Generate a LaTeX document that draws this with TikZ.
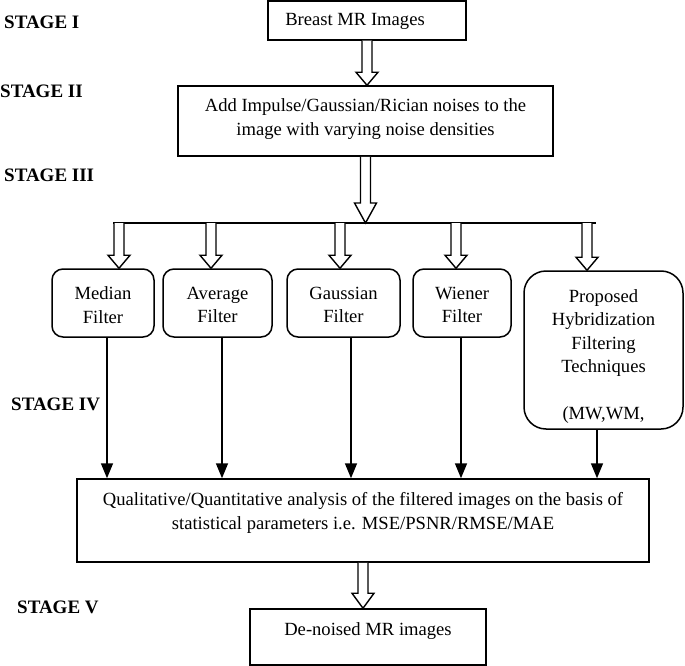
\documentclass[tikz,border=0pt]{standalone}
\usepackage{fontspec}
\setmainfont{Liberation Serif}
\usetikzlibrary{arrows.meta,calc}
\begin{document}
\begin{tikzpicture}[x=1pt,y=-1pt,
  every node/.style={font=\fontsize{18.6}{23.5}\selectfont},
  sqbox/.style={draw,line width=1.5pt,inner sep=0pt},
  rbox/.style={draw,line width=1.5pt,inner sep=0pt,rounded corners=11pt},
  txt/.style={align=center,inner sep=0pt},
  stagelbl/.style={anchor=west,inner sep=0pt,font=\fontsize{19}{22}\selectfont\bfseries},
  hollow/.style={draw,line width=1.4pt,fill=white},
  blk/.style={line width=1.6pt,-{Triangle[width=12pt,length=15pt]}}]
\useasboundingbox (0,0) rectangle (685,666);
\newcommand\hollowarr[3]{%
  \path[hollow] let \p1=#1, \p2=#2 in
    ({\x1-5pt},{\y1}) -- ({\x1-5pt},{\y2+#3}) -- ({\x1-11pt},{\y2+#3}) -- (\x1,\y2)
    -- ({\x1+11pt},{\y2+#3}) -- ({\x1+5pt},{\y2+#3}) -- ({\x1+5pt},{\y1});}

% stage labels
\node[stagelbl] (s1) at (4,22) {STAGE I};
\node[stagelbl] (s2) at (0,91) {STAGE II};
\node[stagelbl] (s3) at (4,175) {STAGE III};
\node[stagelbl] (s4) at (11,404) {STAGE IV};
\node[stagelbl] (s5) at (17,607) {STAGE V};

% boxes
\node[sqbox,minimum width=198pt,minimum height=39pt] (breast) at (367,20.5) {};
\node[txt] (breastt) at (355,21) {Breast MR Images};
\node[sqbox,minimum width=375pt,minimum height=70pt] (noise) at (365.5,121) {};
\node[txt] (noiset) at (365.5,119) {Add Impulse/Gaussian/Rician noises to the\\image with varying noise densities};

\node[rbox,minimum width=102pt,minimum height=68pt] (median) at (103,303) {};
\node[txt] (mediant) at (103,305) {Median\\Filter};
\node[rbox,minimum width=109pt,minimum height=68pt] (average) at (217.5,303) {};
\node[txt] (averaget) at (217.5,305) {Average\\Filter};
\node[rbox,minimum width=113pt,minimum height=68pt] (gauss) at (343.5,303) {};
\node[txt] (gausst) at (343.5,305) {Gaussian\\Filter};
\node[rbox,minimum width=98pt,minimum height=68pt] (wiener) at (462,303) {};
\node[txt] (wienert) at (462,305) {Wiener\\Filter};
\node[rbox,rounded corners=22pt,minimum width=159pt,minimum height=158pt] (prop) at (603.5,350) {};
\node[txt] (propt) at (603.5,356.5) {Proposed\\Hybridization\\Filtering\\Techniques\\[23.5pt](MW,WM,};

\node[sqbox,minimum width=572pt,minimum height=83pt] (anal) at (363,520.5) {};
\node[txt] (analt) at (363,513) {Qualitative/Quantitative analysis of the filtered images on the basis of\\statistical parameters i.e. MSE/PSNR/RMSE/MAE};

\node[sqbox,minimum width=236pt,minimum height=56pt] (denoise) at (368,637) {};
\node[txt] (denoiset) at (368,631) {De-noised MR images};

% bar
\coordinate (barL) at (113,223);
\coordinate (barR) at (596,223);
\coordinate (barM) at (366,223);
\draw[line width=1.5pt] (barL) -- (barR);

% hollow arrows
\hollowarr{(breast.south)}{(noise.north)}{13pt}
\hollowarr{(noise.south)}{(barM)}{20pt}
\coordinate (b1) at (119,223);
\coordinate (b2) at (211,223);
\coordinate (b3) at (340,223);
\coordinate (b4) at (456,223);
\coordinate (b5) at (587,223);
\hollowarr{(b1)}{(median.north -| b1)}{13pt}
\hollowarr{(b2)}{(average.north -| b2)}{13pt}
\hollowarr{(b3)}{(gauss.north -| b3)}{13pt}
\hollowarr{(b4)}{(wiener.north -| b4)}{13pt}
\hollowarr{(b5)}{(prop.north -| b5)}{13pt}
\hollowarr{(anal.south)}{(denoise.north)}{15pt}

% black arrows
\coordinate (c1) at (107,0);
\coordinate (c2) at (222,0);
\coordinate (c3) at (351,0);
\coordinate (c4) at (461,0);
\coordinate (c5) at (597,0);
\draw[blk] (median.south -| c1) -- (anal.north -| c1);
\draw[blk] (average.south -| c2) -- (anal.north -| c2);
\draw[blk] (gauss.south -| c3) -- (anal.north -| c3);
\draw[blk] (wiener.south -| c4) -- (anal.north -| c4);
\draw[blk] (prop.south -| c5) -- (anal.north -| c5);
\end{tikzpicture}
\end{document}
